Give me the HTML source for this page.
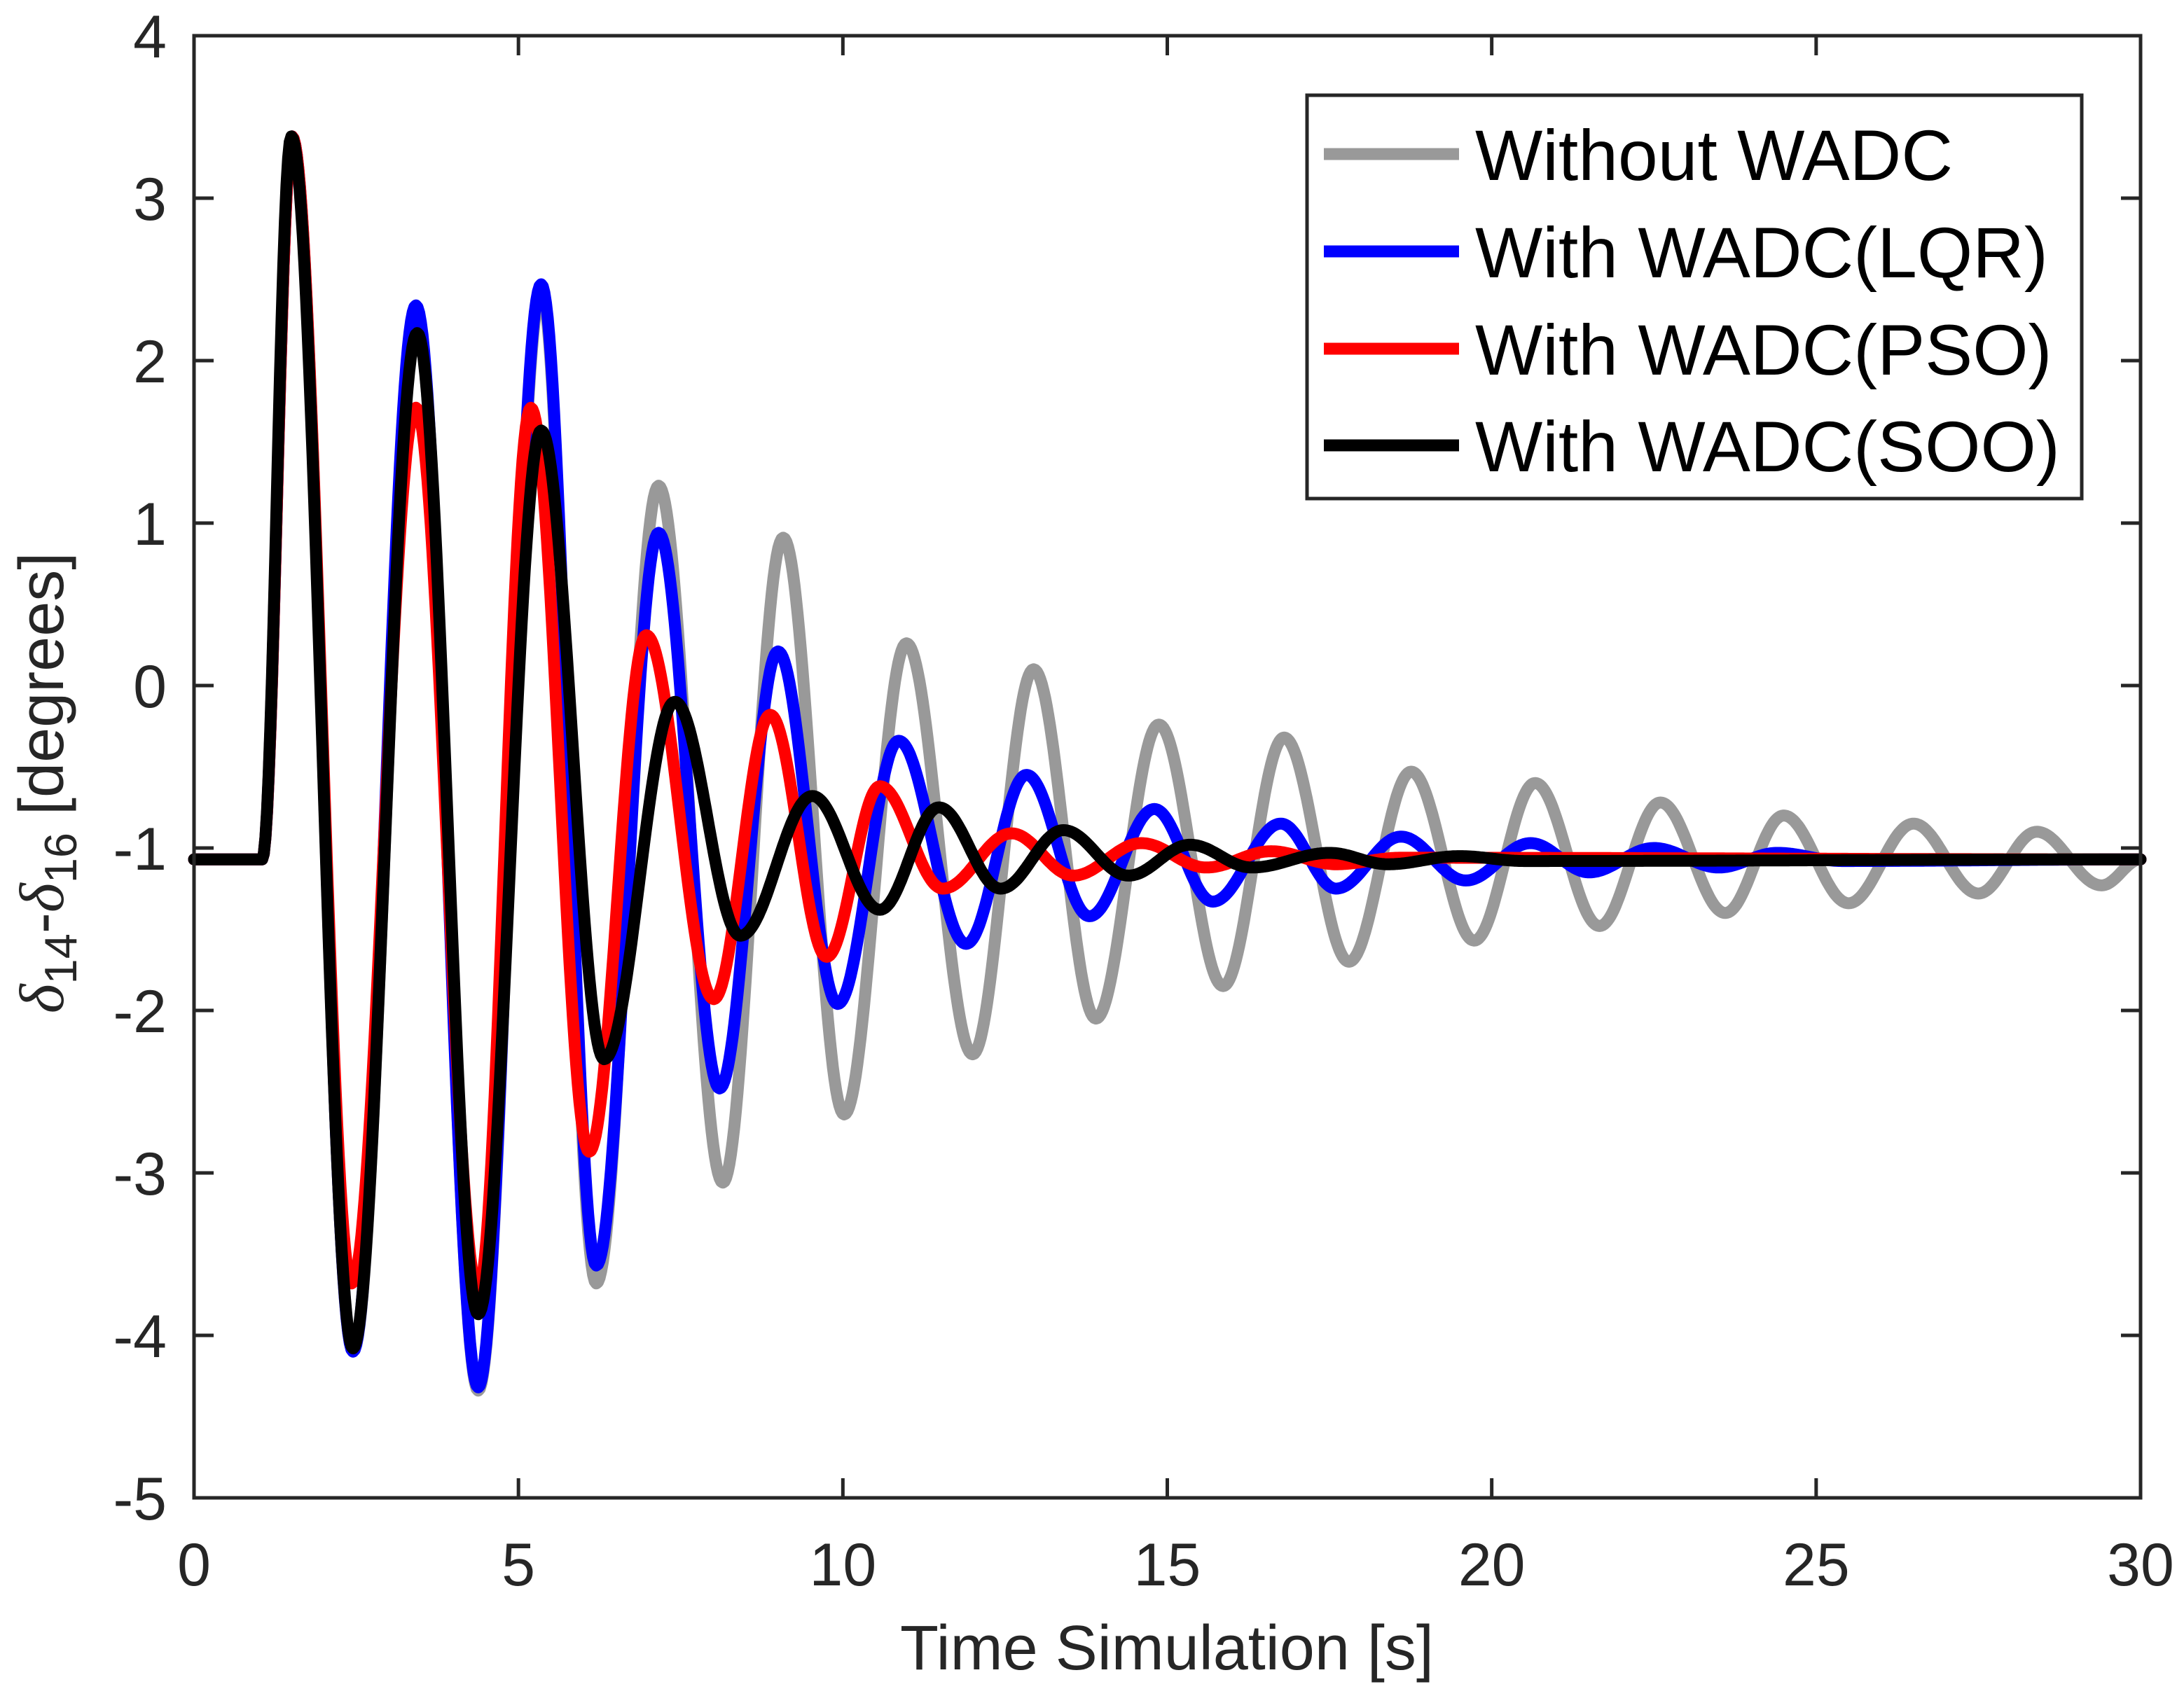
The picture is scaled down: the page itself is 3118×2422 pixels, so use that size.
<!DOCTYPE html>
<html><head><meta charset="utf-8"><style>
html,body{margin:0;padding:0;background:#fff;}
svg{display:block;font-family:"Liberation Sans",sans-serif;}
</style></head><body>
<svg id="chart" width="3118" height="2422" viewBox="0 0 3118 2422" xmlns="http://www.w3.org/2000/svg">
<rect x="0" y="0" width="3118" height="2422" fill="#fff"/>
<g id="series"></g>
<g id="axes"></g>
<g id="legend"></g>
<text x="1666" y="2384" font-size="90" fill="#262626" text-anchor="middle">Time Simulation [s]</text>
<text transform="translate(90,1118) rotate(-90)" font-size="90" fill="#262626" text-anchor="middle"><tspan font-family="'Liberation Serif',serif" font-style="italic">δ</tspan><tspan font-size="65" dy="19">14</tspan><tspan dy="-19">-</tspan><tspan font-family="'Liberation Serif',serif" font-style="italic">δ</tspan><tspan font-size="65" dy="19">16</tspan><tspan dy="-19"> [degrees]</tspan></text>
</svg>
<script>
const xTicks = [0,5,10,15,20,25,30];
const yTicks = [-5,-4,-3,-2,-1,0,1,2,3,4];
const seriesNames = ["Without WADC","With WADC(LQR)","With WADC(PSO)","With WADC(SOO)"];
const seriesColors = ["#999999","#0000ff","#ff0000","#000000"];
// extrema (time, value)
const grayT = [0,1.05,1.51,2.45,3.44,4.38,5.35,6.2,7.16,8.15,9.08,10.02,10.98,12.0,12.94,13.9,14.87,15.86,16.8,17.8,18.76,19.73,20.67,21.66,22.6,23.6,24.5,25.5,26.5,27.5,28.4,29.4,30];
const grayV = [-1.07,-1.07,3.38,-4.1,2.2,-4.34,2.42,-3.68,1.23,-3.06,0.91,-2.64,0.26,-2.27,0.1,-2.05,-0.24,-1.85,-0.32,-1.7,-0.53,-1.57,-0.6,-1.48,-0.72,-1.4,-0.8,-1.34,-0.85,-1.28,-0.9,-1.23,-1.07];
const lqrT = [0,1.05,1.51,2.45,3.42,4.38,5.35,6.2,7.16,8.1,9.0,9.92,10.86,11.9,12.83,13.8,14.8,15.7,16.75,17.6,18.6,19.6,20.6,21.5,22.5,23.5,24.4,25.4,30];
const lqrV = [-1.07,-1.07,3.38,-4.1,2.34,-4.32,2.47,-3.57,0.94,-2.48,0.21,-1.96,-0.34,-1.59,-0.55,-1.42,-0.76,-1.33,-0.85,-1.25,-0.93,-1.2,-0.97,-1.15,-1.0,-1.12,-1.03,-1.08,-1.07];
const psoT = [0,1.05,1.51,2.43,3.42,4.38,5.19,6.09,6.97,8.01,8.88,9.75,10.57,11.54,12.6,13.55,14.6,15.6,16.6,17.6,18.6,30];
const psoV = [-1.07,-1.07,3.38,-3.68,1.71,-3.73,1.71,-2.87,0.31,-1.93,-0.18,-1.67,-0.62,-1.25,-0.91,-1.17,-0.97,-1.12,-1.02,-1.1,-1.06,-1.07];
const sooT = [0,1.05,1.5,2.45,3.44,4.38,5.35,6.32,7.41,8.42,9.53,10.57,11.48,12.43,13.4,14.4,15.35,16.3,17.5,18.4,19.5,20.5,30];
const sooV = [-1.07,-1.07,3.38,-4.08,2.17,-3.87,1.57,-2.3,-0.1,-1.54,-0.68,-1.38,-0.75,-1.25,-0.89,-1.17,-0.98,-1.12,-1.03,-1.1,-1.05,-1.08,-1.07];

const NS="http://www.w3.org/2000/svg";
const X0=277,X1=3056,Y0=2139,Y1=51;
const xs=t=>X0+(t-0)/(30-0)*(X1-X0);
const ys=v=>Y0-(v+5)/9*(Y0-Y1);
function mk(tag,attrs,parent){const e=document.createElementNS(NS,tag);for(const k in attrs)e.setAttribute(k,attrs[k]);parent.appendChild(e);return e;}

const sg=document.getElementById('series');
function drawSeries(T,V,color,name){
  let d="M"+xs(T[0]).toFixed(1)+","+ys(V[0]).toFixed(1);
  for(let i=1;i<T.length;i++){
    const a=V[i-1],b=V[i],ta=T[i-1],tb=T[i];
    const n=Math.max(2,Math.round((tb-ta)*40));
    for(let k=1;k<=n;k++){const s=k/n;const v=a+(b-a)*(1-Math.cos(Math.PI*s))/2;d+="L"+xs(ta+(tb-ta)*s).toFixed(1)+","+ys(v).toFixed(1);}
  }
  const p=mk('path',{d:d,fill:'none',stroke:color,'stroke-width':17,'stroke-linejoin':'round','stroke-linecap':'round'},sg);
  
  
}
drawSeries(grayT,grayV,seriesColors[0],'line-without-wadc');
drawSeries(lqrT,lqrV,seriesColors[1],'line-lqr');
drawSeries(psoT,psoV,seriesColors[2],'line-pso');
drawSeries(sooT,sooV,seriesColors[3],'line-soo');

const ax=document.getElementById('axes');
const box=mk('rect',{x:X0,y:Y1,width:X1-X0,height:Y0-Y1,fill:'none',stroke:'#262626','stroke-width':5},ax);


xTicks.forEach(t=>{
  const x=xs(t);
  mk('line',{x1:x,y1:Y0,x2:x,y2:Y0-28,stroke:'#262626','stroke-width':5},ax);
  mk('line',{x1:x,y1:Y1,x2:x,y2:Y1+28,stroke:'#262626','stroke-width':5},ax);
  const tx=mk('text',{x:x,y:2264,'font-size':86,fill:'#262626','text-anchor':'middle'},ax);
  tx.textContent=t;
  
  
});
yTicks.forEach(v=>{
  const y=ys(v);
  mk('line',{x1:X0,y1:y,x2:X0+28,y2:y,stroke:'#262626','stroke-width':5},ax);
  mk('line',{x1:X1,y1:y,x2:X1-28,y2:y,stroke:'#262626','stroke-width':5},ax);
  const tx=mk('text',{x:238,y:y+31,'font-size':86,fill:'#262626','text-anchor':'end'},ax);
  tx.textContent=v;
  
  
});

const lg=document.getElementById('legend');
const lb=mk('rect',{x:1866,y:136,width:1106,height:576,fill:'#fff',stroke:'#262626','stroke-width':5},lg);


const rowY=[220,359,498,636];
seriesNames.forEach((n,i)=>{
  const ln=mk('line',{x1:1890,y1:rowY[i],x2:2083,y2:rowY[i],stroke:seriesColors[i],'stroke-width':17},lg);
  
  
  const tx=mk('text',{x:2106,y:rowY[i]+37,'font-size':102,fill:'#000'},lg);
  tx.textContent=n;
  
  
});
</script>
</body></html>
